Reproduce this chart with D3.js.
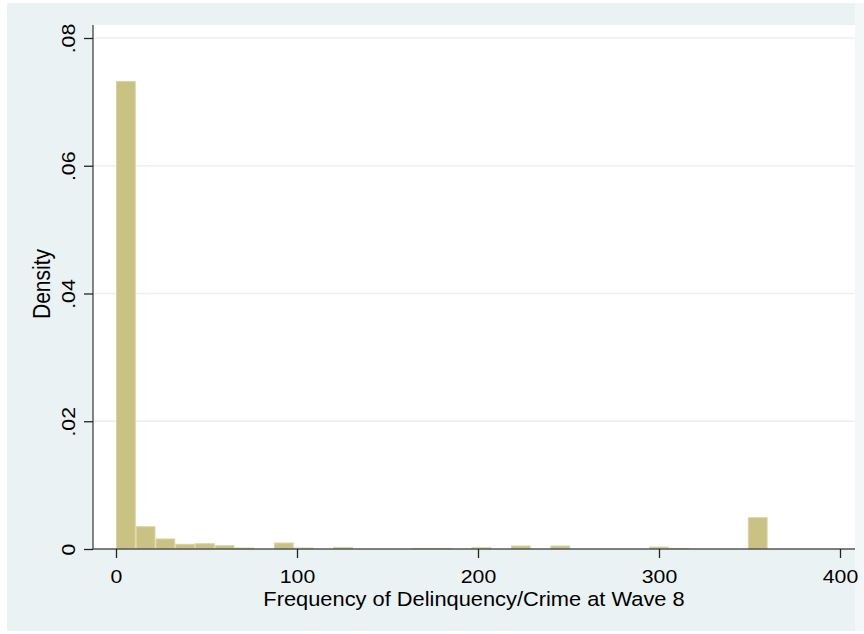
<!DOCTYPE html>
<html>
<head>
<meta charset="utf-8">
<script src="https://cdn.jsdelivr.net/npm/d3@7"></script>
<style>
    body { margin: 0; background: #ffffff; }
    text { font-family: "Liberation Sans", Arial, sans-serif; fill: #000000; }
</style>
</head>
<body>
<div id="histogram"></div>
<script>
// histogram bins: 33 bins of width 360/33 starting at 0
const binCount = 33;
const binWidth = 360 / binCount;
const densities = [
    0.0732, 0.00349, 0.00157, 0.00074, 0.00083, 0.00052, 0.00015, 0, 0.00094, 0.00015,
    0, 0.00025, 0, 0, 0, 0.0001, 0.0001, 0, 0.0002, 0,
    0.00047, 0, 0.00047, 0, 0, 0, 0, 0.0003, 0.0001, 0,
    0, 0, 0.0049
];
const xTicks = [0, 100, 200, 300, 400];
const yTicks = [0, 0.02, 0.04, 0.06, 0.08];
const yTickLabels = ['0', '.02', '.04', '.06', '.08'];
const xTitle = 'Frequency of Delinquency/Crime at Wave 8';
const yTitle = 'Density';

const width = 864;
const height = 634;
const plot = { left: 93, right: 855, top: 25, bottom: 549 };
const stretch = 1.12;

function drawHistogram() {
    const svg = d3.select('#histogram')
        .append('svg')
        .attr('width', width)
        .attr('height', height);

    // outer graph region
    svg.append('rect')
        .attr('x', 7).attr('y', 3)
        .attr('width', plot.right - 7).attr('height', 628)
        .attr('fill', '#eaf2f3');
    svg.append('rect')
        .attr('x', plot.right).attr('y', 3)
        .attr('width', width - plot.right).attr('height', 628)
        .attr('fill', '#f3f7f8');

    // plot region
    svg.append('rect')
        .attr('x', plot.left).attr('y', plot.top)
        .attr('width', plot.right - plot.left).attr('height', plot.bottom - plot.top)
        .attr('fill', '#ffffff');

    const xScale = d3.scaleLinear()
        .domain([0, 400])
        .range([116, 840]);

    const yScale = d3.scaleLinear()
        .domain([0, 0.08])
        .range([plot.bottom, 38]);

    // grid lines
    svg.append('g')
        .selectAll('line')
        .data(yTicks.slice(1))
        .enter()
        .append('line')
        .attr('x1', plot.left).attr('x2', plot.right)
        .attr('y1', d => yScale(d)).attr('y2', d => yScale(d))
        .attr('stroke', '#e8f0f2')
        .attr('stroke-width', 1.5);

    // bars, one per bin
    svg.append('g')
        .selectAll('rect')
        .data(densities.map((d, i) => ({ i: i, d: d })).filter(b => b.d > 0))
        .enter()
        .append('rect')
        .attr('x', b => xScale(b.i * binWidth) + 0.5)
        .attr('y', b => yScale(b.d))
        .attr('width', b => xScale((b.i + 1) * binWidth) - xScale(b.i * binWidth) - 1)
        .attr('height', b => plot.bottom - yScale(b.d))
        .attr('fill', '#c9c282')
        .attr('stroke', '#d8d4a6')
        .attr('stroke-width', 1);

    // y axis
    const yAxis = d3.axisLeft(yScale)
        .tickValues(yTicks)
        .tickSize(9)
        .tickFormat((d, i) => yTickLabels[i]);

    const yAxisGroup = svg.append('g')
        .attr('transform', `translate(${plot.left}, 0)`)
        .call(yAxis);
    yAxisGroup.select('.domain')
        .attr('d', `M0,${plot.top}V${plot.bottom}`)
        .attr('stroke', '#444444')
        .attr('stroke-width', 1.3);
    yAxisGroup.selectAll('.tick line').attr('stroke', '#222222').attr('stroke-width', 1.3);
    yAxisGroup.selectAll('.tick text')
        .attr('x', null).attr('dy', null)
        .attr('font-size', 19)
        .attr('font-family', '"Liberation Sans", Arial, sans-serif')
        .attr('text-anchor', 'middle')
        .attr('transform', `translate(-18, 0) scale(1, ${stretch}) rotate(-90)`)
        .attr('fill', '#000000');

    // x axis
    const xAxis = d3.axisBottom(xScale)
        .tickValues(xTicks)
        .tickSize(9);

    const xAxisGroup = svg.append('g')
        .attr('transform', `translate(0, ${plot.bottom})`)
        .call(xAxis);
    xAxisGroup.select('.domain')
        .attr('d', `M${plot.left},0H${plot.right}`)
        .attr('stroke', '#555555')
        .attr('stroke-width', 1.3);
    xAxisGroup.selectAll('.tick line').attr('stroke', '#222222').attr('stroke-width', 1.3);
    xAxisGroup.selectAll('.tick text')
        .attr('y', null).attr('dy', null)
        .attr('font-size', 19)
        .attr('font-family', '"Liberation Sans", Arial, sans-serif')
        .attr('text-anchor', 'middle')
        .attr('transform', `translate(0, 34) scale(${stretch}, 1)`)
        .attr('fill', '#000000');

    // axis titles
    svg.append('text')
        .attr('transform', `translate(${(plot.left + plot.right) / 2}, 606) scale(${stretch}, 1)`)
        .attr('text-anchor', 'middle')
        .attr('font-size', 19.5)
        .text(xTitle);

    svg.append('text')
        .attr('transform', `translate(50, 284) scale(${stretch}, 1) rotate(-90)`)
        .attr('text-anchor', 'middle')
        .attr('font-size', 21)
        .text(yTitle);
}

document.addEventListener('DOMContentLoaded', () => drawHistogram());
</script>
</body>
</html>
